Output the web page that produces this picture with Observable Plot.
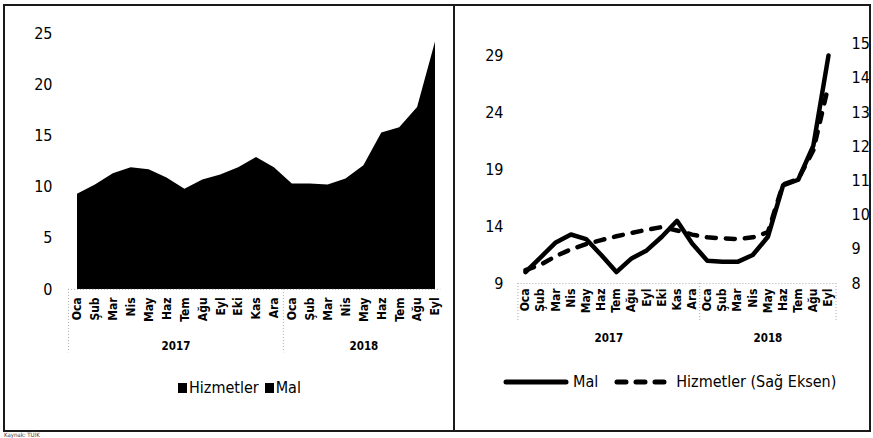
<!DOCTYPE html>
<html><head><meta charset="utf-8">
<script src="https://cdn.jsdelivr.net/npm/d3@7"></script>
<script src="https://cdn.jsdelivr.net/npm/@observablehq/plot@0.6"></script>
<style>
body{margin:0;background:#fff;}
#wrap{position:relative;width:873px;height:438px;overflow:hidden;background:#fff;font-family:"DejaVu Sans Condensed","DejaVu Sans",sans-serif;color:#000}
.panel{position:absolute;top:0}
.leg{position:absolute;font-size:16px;white-space:nowrap;display:flex;align-items:center;line-height:1}
.sq{display:inline-block;width:9px;height:10px;background:#000;margin-right:2px}
</style></head><body>
<div id="wrap">
  <div id="left" class="panel" style="left:0"></div>
  <div id="right" class="panel" style="left:455px"></div>
  <div style="position:absolute;left:3px;top:4px;width:864px;height:424px;border:2px solid #1a1a1a"></div>
  <div style="position:absolute;left:453px;top:4px;width:2px;height:428px;background:#1a1a1a"></div>
  <div id="legL" class="leg" style="left:178px;top:380px"></div>
  <div id="legR" class="leg" style="left:503px;top:374px"></div>
  <div style="position:absolute;left:4px;top:432px;font-size:6px;line-height:6px;color:#444">Kaynak: TÜİK</div>
</div>
<script>
// ---- data ----
const months = ["Oca","Şub","Mar","Nis","May","Haz","Tem","Ağu","Eyl","Eki","Kas","Ara","Oca","Şub","Mar","Nis","May","Haz","Tem","Ağu","Eyl"];
const years = ["2017","2018"];
const yearStart = [0, 12];
// left panel: area (Hizmetler + Mal)
const toplam = [9.3, 10.2, 11.3, 11.9, 11.7, 10.9, 9.8, 10.7, 11.2, 11.9, 12.9, 11.9, 10.3, 10.3, 10.2, 10.8, 12.1, 15.3, 15.8, 17.8, 24.2];
// right panel
const mal = [10.0, 11.3, 12.6, 13.3, 12.9, 11.5, 10.0, 11.2, 11.9, 13.1, 14.5, 12.5, 11.0, 10.9, 10.9, 11.5, 13.1, 17.6, 18.1, 21.1, 29.0];
const hizmetler = [8.39, 8.55, 8.8, 9.0, 9.15, 9.27, 9.38, 9.48, 9.57, 9.65, 9.55, 9.43, 9.35, 9.32, 9.3, 9.35, 9.5, 10.9, 11.05, 11.9, 13.8];
const leftTicks = [0, 5, 10, 15, 20, 25];
const malTicks = [9, 14, 19, 24, 29];
const hizTicks = [8, 9, 10, 11, 12, 13, 14, 15];
const legendLeft = ["Hizmetler", "Mal"];
const legendRight = ["Mal", "Hizmetler (Sağ Eksen)"];

// ---- derived ----
const idx = months.map((m, i) => i);
const last = months.length - 1;
const yearsData = years.map((y, k) => ({
  year: y,
  mid: (yearStart[k] + (k + 1 < years.length ? yearStart[k + 1] - 1 : last)) / 2
}));
const seps = yearStart.map(s => s - 0.5);
const font = '"DejaVu Sans Condensed","DejaVu Sans",sans-serif';

// ---- left chart ----
const left = Plot.plot({
  width: 455, height: 360,
  marginLeft: 77, marginRight: 20, marginTop: 33.3, marginBottom: 71.1,
  x: {type: "linear", domain: [0, last], axis: null},
  y: {domain: [0, 25], axis: null},
  style: {fontFamily: font, background: "transparent", color: "#000"},
  marks: [
    Plot.areaY(idx, {x: i => i, y: i => toplam[i], fill: "#000", curve: "linear"}),
    Plot.ruleY([0], {x1: -0.5, x2: last + 0.3, stroke: "#aaa", strokeDasharray: "1,2"}),
    Plot.ruleX(seps, {y1: 0, y2: -6.2, stroke: "#aaa", strokeDasharray: "1,2"}),
    Plot.axisY(leftTicks, {tickSize: 0, tickPadding: 25, fontSize: 16, label: null}),
    Plot.axisX(idx, {tickSize: 0, tickRotate: -90, tickPadding: 8, tickFormat: i => months[i], fontSize: 12, fontWeight: "bold", label: null}),
    Plot.text(yearsData, {x: "mid", y: 0, text: "year", dy: 57, fontSize: 11.5, fontWeight: "bold"})
  ]
});
document.getElementById("left").appendChild(left);

// ---- right chart ----
const toLeft = v => 9 + 3 * (v - 8);
const right = Plot.plot({
  width: 418, height: 360,
  marginLeft: 70, marginRight: 45, marginTop: 43.6, marginBottom: 77,
  x: {type: "linear", domain: [0, last], axis: null},
  y: {domain: [9, 30], axis: null},
  style: {fontFamily: font, background: "transparent", color: "#000"},
  marks: [
    Plot.ruleY([9], {x1: -0.5, x2: last + 0.5, stroke: "#aaa", strokeDasharray: "1,2"}),
    Plot.ruleX([...seps, last + 0.5], {y1: 9, y2: 5.6, stroke: "#aaa", strokeDasharray: "1,2"}),
    Plot.line(idx, {x: i => i, y: i => mal[i], stroke: "#000", strokeWidth: 4.5, strokeLinejoin: "round", strokeLinecap: "round"}),
    Plot.line(idx, {x: i => i, y: i => toLeft(hizmetler[i]), stroke: "#000", strokeWidth: 4.5, strokeDasharray: "9,10", strokeLinecap: "round", strokeLinejoin: "round"}),
    Plot.axisY(malTicks, {tickSize: 0, tickPadding: 22, fontSize: 16, label: null}),
    Plot.text(hizTicks, {y: d => toLeft(d), text: d => String(d), frameAnchor: "right", textAnchor: "start", dx: 23, fontSize: 16}),
    Plot.axisX(idx, {tickSize: 0, tickRotate: -90, tickPadding: 5, tickFormat: i => months[i], fontSize: 12, fontWeight: "bold", label: null}),
    Plot.text(yearsData, {x: "mid", y: 9, text: "year", dy: 55, fontSize: 11.5, fontWeight: "bold"})
  ]
});
document.getElementById("right").appendChild(right);

// ---- legends ----
const lL = document.getElementById("legL");
legendLeft.forEach((name, k) => {
  const s = document.createElement("span");
  s.style.display = "flex"; s.style.alignItems = "center"; s.style.marginRight = k === 0 ? "6px" : "0";
  s.innerHTML = `<span class="sq"></span>${name}`;
  lL.appendChild(s);
});
const lR = document.getElementById("legR");
legendRight.forEach((name, k) => {
  const s = document.createElement("span");
  s.style.display = "flex"; s.style.alignItems = "center"; s.style.marginRight = k === 0 ? "16px" : "0";
  const dash = k === 0 ? "" : 'stroke-dasharray="9,10"';
  s.innerHTML = `<svg width="${k === 0 ? 66 : 58}" height="10" style="margin-right:4px"><line x1="3" x2="${k === 0 ? 63 : 55}" y1="5" y2="5" stroke="#000" stroke-width="5" stroke-linecap="round" ${dash}/></svg>${name}`;
  lR.appendChild(s);
});
</script>
</body></html>
